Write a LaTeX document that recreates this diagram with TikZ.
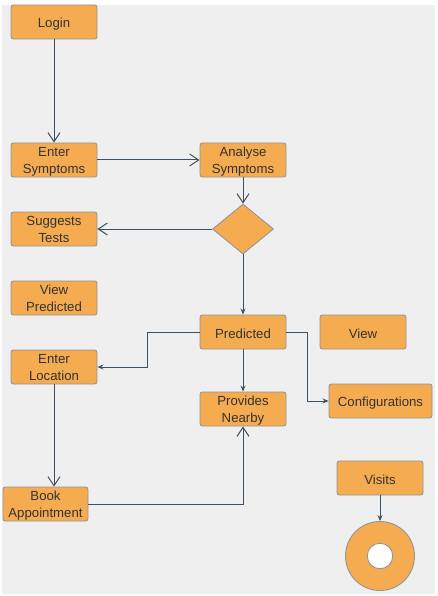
\documentclass[tikz,border=0pt]{standalone}
\usepackage{fontspec}
\setmainfont{Liberation Sans}
\usetikzlibrary{arrows.meta,shapes.geometric}
\definecolor{bg}{HTML}{EFEFEF}
\definecolor{boxfill}{HTML}{F5AB50}
\definecolor{boxline}{HTML}{949494}
\definecolor{conn}{HTML}{3E5163}
\definecolor{txt}{HTML}{333333}
\newcommand\twolines[2]{\raisebox{-4.4pt}[0pt][0pt]{\begin{tabular}{@{}c@{}}#1\\#2\end{tabular}}}
\begin{document}
\begin{tikzpicture}[x=1pt,y=-1pt,
  box/.style={draw=boxline,fill=boxfill,rounded corners=2.5pt,line width=0.9pt,
    minimum width=86pt,minimum height=34pt,inner sep=1pt,
    text=txt,font=\fontsize{13.2}{17}\selectfont},
  oneline/.style={execute at begin node={\rule{0pt}{13.5pt}}},
  dia/.style={draw=boxline,fill=boxfill,diamond,line width=0.9pt,
    minimum width=61pt,minimum height=50pt,inner sep=0pt,aspect=1.2},
  conn/.style={draw=conn,line width=1pt},
  bigarr/.style={conn,-{Straight Barb[length=9pt,width=12pt,line width=1pt]}},
  smallarr/.style={conn,-{Stealth[length=6pt,width=5pt]}}]
\useasboundingbox (0,0) rectangle (437,596);
\fill[bg] (2,5) rectangle (435,594);
\node[box,oneline] (login) at (54,22) {Login};
\node[box] (enter) at (54,160) {\twolines{Enter}{Symptoms}};
\node[box] (analyse) at (243,160) {\twolines{Analyse}{Symptoms}};
\node[dia] (d) at (243,229) {};
\node[box] (tests) at (54,229) {\twolines{Suggests}{Tests}};
\node[box] (viewp) at (54,298) {\twolines{View}{Predicted}};
\node[box,oneline] (pred) at (243,332) {Predicted};
\node[box,oneline] (view) at (363,332) {View};
\node[box] (loc) at (54,367) {\twolines{Enter}{Location}};
\node[box] (near) at (243,409) {\twolines{Provides}{Nearby}};
\node[box,oneline,minimum width=103pt] (conf) at (380.5,401) {Configurations};
\node[box,oneline] (visits) at (380,478) {Visits};
\node[box,minimum width=85pt] (book) at (45.5,504) {\twolines{Book}{Appointment}};
\node[circle,draw=boxline,fill=boxfill,line width=0.9pt,minimum size=69pt,inner sep=0pt] (donut) at (380,556) {};
\node[circle,draw=boxline,fill=white,line width=0.9pt,minimum size=25.5pt,inner sep=0pt] (hole) at (donut.center) {};
\draw[bigarr] (login) -- (enter);
\draw[bigarr] (enter) -- (analyse);
\draw[bigarr] (analyse) -- (d);
\draw[bigarr] (d) -- (tests);
\draw[smallarr] (d) -- (pred);
\draw[smallarr] (pred.west) -- ++(-52,0) |- (loc.east);
\draw[smallarr] (pred) -- (near);
\draw[smallarr] (pred.east) -- ++(21,0) |- (conf.west);
\draw[bigarr] (loc.south) -- (loc.south |- book.north);
\draw[bigarr] (book.east) -| (near.south);
\draw[smallarr] (visits) -- (donut);
\end{tikzpicture}
\end{document}
